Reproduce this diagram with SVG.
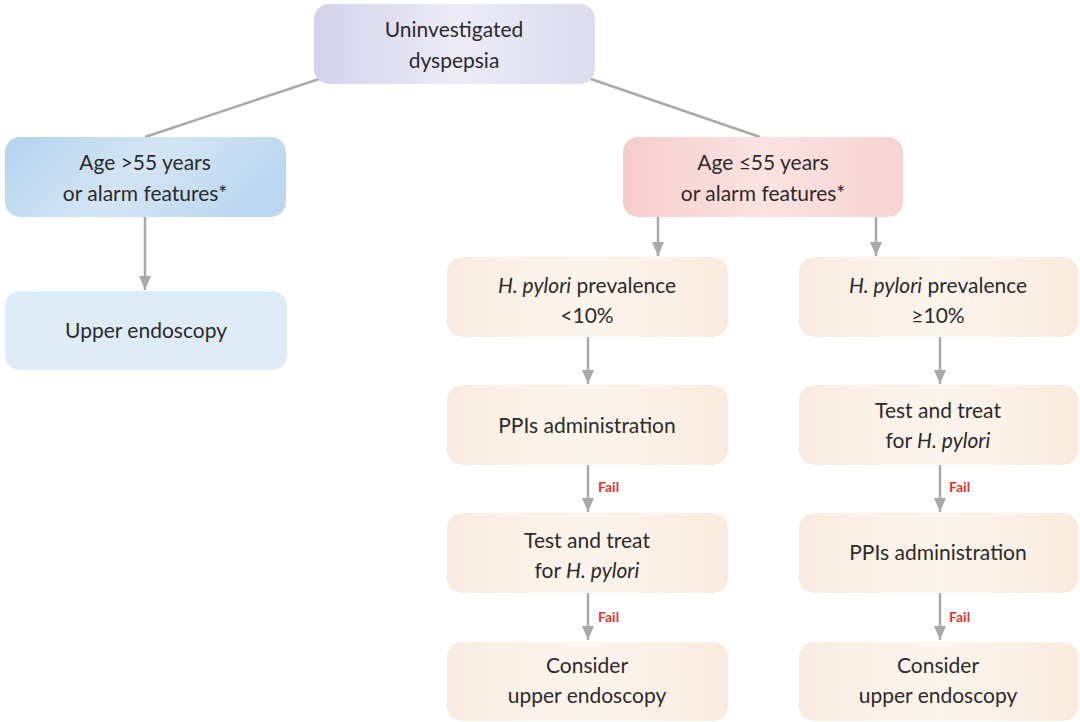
<svg xmlns="http://www.w3.org/2000/svg" width="1080" height="722" viewBox="0 0 1080 722">
  <defs>
    <linearGradient id="gLav" x1="0" y1="0" x2="1" y2="0">
      <stop offset="0" stop-color="#d3d2ec"/>
      <stop offset="0.5" stop-color="#ecebf7"/>
      <stop offset="1" stop-color="#dddcf0"/>
    </linearGradient>
    <linearGradient id="gBlue" x1="0" y1="0" x2="1" y2="0.3">
      <stop offset="0" stop-color="#b4d3ee"/>
      <stop offset="0.55" stop-color="#d3e5f5"/>
      <stop offset="1" stop-color="#bcd8f0"/>
    </linearGradient>
    <linearGradient id="gPink" x1="0" y1="0" x2="1" y2="0">
      <stop offset="0" stop-color="#f5cccc"/>
      <stop offset="0.5" stop-color="#fbe3e2"/>
      <stop offset="1" stop-color="#f6d3d2"/>
    </linearGradient>
    <linearGradient id="gBeige" x1="0" y1="0" x2="1" y2="0">
      <stop offset="0" stop-color="#f8ecdf"/>
      <stop offset="0.5" stop-color="#fcf5ee"/>
      <stop offset="1" stop-color="#f8ebdd"/>
    </linearGradient>
    <!-- arrowhead drawn along +x so that orient="auto" points it down the line -->
    <marker id="ah" viewBox="0 0 14 12" refX="14" refY="6" markerWidth="14" markerHeight="12" markerUnits="userSpaceOnUse" orient="auto">
      <path d="M0,0 L14,6 L0,12 Z" fill="#a9a9a9"/>
    </marker>
  </defs>
  <style>
    .box { stroke: none; }
    .t { font-family: Lato, "Open Sans", sans-serif; font-size: 21px; fill: #2d2a2a; text-anchor: middle; }
    .i { font-style: italic; }
    .line { stroke: #a9a9a9; stroke-width: 2.5; fill: none; }
    .arr { stroke: #a9a9a9; stroke-width: 2.5; fill: none; marker-end: url(#ah); }
    .fail { font-family: Lato, "Open Sans", sans-serif; font-size: 14px; font-weight: bold; fill: #e3332b; }
  </style>

  <rect width="1080" height="722" fill="#ffffff"/>

  <g id="connectors">
    <line class="line" x1="322" y1="78" x2="145" y2="137"/>
    <line class="line" x1="588" y1="78" x2="760" y2="137"/>
    <line class="arr" x1="145" y1="217" x2="145" y2="290"/>
    <line class="arr" x1="658" y1="217" x2="658" y2="256"/>
    <line class="arr" x1="876" y1="217" x2="876" y2="256"/>
    <line class="arr" x1="588" y1="337" x2="588" y2="384"/>
    <line class="arr" x1="588" y1="465" x2="588" y2="512"/>
    <line class="arr" x1="588" y1="593" x2="588" y2="640"/>
    <line class="arr" x1="940" y1="337" x2="940" y2="384"/>
    <line class="arr" x1="940" y1="465" x2="940" y2="512"/>
    <line class="arr" x1="940" y1="593" x2="940" y2="640"/>
    <text class="fail" x="598" y="492">Fail</text>
    <text class="fail" x="598" y="622">Fail</text>
    <text class="fail" x="949" y="492">Fail</text>
    <text class="fail" x="949" y="622">Fail</text>
  </g>

  <g id="n-start">
    <rect class="box" x="314" y="4" width="281" height="80" rx="15" fill="url(#gLav)"/>
    <text class="t" x="454" y="37">Uninvestigated</text>
    <text class="t" x="454" y="68">dyspepsia</text>
  </g>

  <g id="n-older">
    <rect class="box" x="5" y="137" width="281" height="80" rx="15" fill="url(#gBlue)"/>
    <text class="t" x="145" y="170">Age &gt;55 years</text>
    <text class="t" x="145" y="201">or alarm features*</text>
  </g>

  <g id="n-endo">
    <rect class="box" x="5" y="291" width="282" height="79" rx="15" fill="#deecf7"/>
    <text class="t" x="146" y="338">Upper endoscopy</text>
  </g>

  <g id="n-younger">
    <rect class="box" x="623" y="137" width="280" height="80" rx="15" fill="url(#gPink)"/>
    <text class="t" x="763" y="170">Age ≤55 years</text>
    <text class="t" x="763" y="201">or alarm features*</text>
  </g>

  <g id="n-low">
    <rect class="box" x="447" y="257" width="281" height="80" rx="15" fill="url(#gBeige)"/>
    <text class="t" x="587" y="293"><tspan class="i">H. pylori</tspan>  prevalence</text>
    <text class="t" x="587" y="323">&lt;10%</text>
  </g>

  <g id="n-low-ppi">
    <rect class="box" x="447" y="385" width="281" height="80" rx="15" fill="url(#gBeige)"/>
    <text class="t" x="587" y="433">PPIs administration</text>
  </g>

  <g id="n-low-test">
    <rect class="box" x="447" y="513" width="281" height="80" rx="15" fill="url(#gBeige)"/>
    <text class="t" x="587" y="548">Test and treat</text>
    <text class="t" x="587" y="578">for <tspan class="i">H. pylori</tspan></text>
  </g>

  <g id="n-low-endo">
    <rect class="box" x="447" y="642" width="281" height="79" rx="15" fill="url(#gBeige)"/>
    <text class="t" x="587" y="673">Consider</text>
    <text class="t" x="587" y="703">upper endoscopy</text>
  </g>

  <g id="n-high">
    <rect class="box" x="799" y="257" width="279" height="80" rx="15" fill="url(#gBeige)"/>
    <text class="t" x="938" y="293"><tspan class="i">H. pylori</tspan> prevalence</text>
    <text class="t" x="938" y="323">≥10%</text>
  </g>

  <g id="n-high-test">
    <rect class="box" x="799" y="385" width="279" height="80" rx="15" fill="url(#gBeige)"/>
    <text class="t" x="938" y="418">Test and treat</text>
    <text class="t" x="938" y="448">for  <tspan class="i">H. pylori</tspan></text>
  </g>

  <g id="n-high-ppi">
    <rect class="box" x="799" y="513" width="279" height="80" rx="15" fill="url(#gBeige)"/>
    <text class="t" x="938" y="560">PPIs administration</text>
  </g>

  <g id="n-high-endo">
    <rect class="box" x="799" y="642" width="279" height="79" rx="15" fill="url(#gBeige)"/>
    <text class="t" x="938" y="673">Consider</text>
    <text class="t" x="938" y="703">upper endoscopy</text>
  </g>
</svg>
